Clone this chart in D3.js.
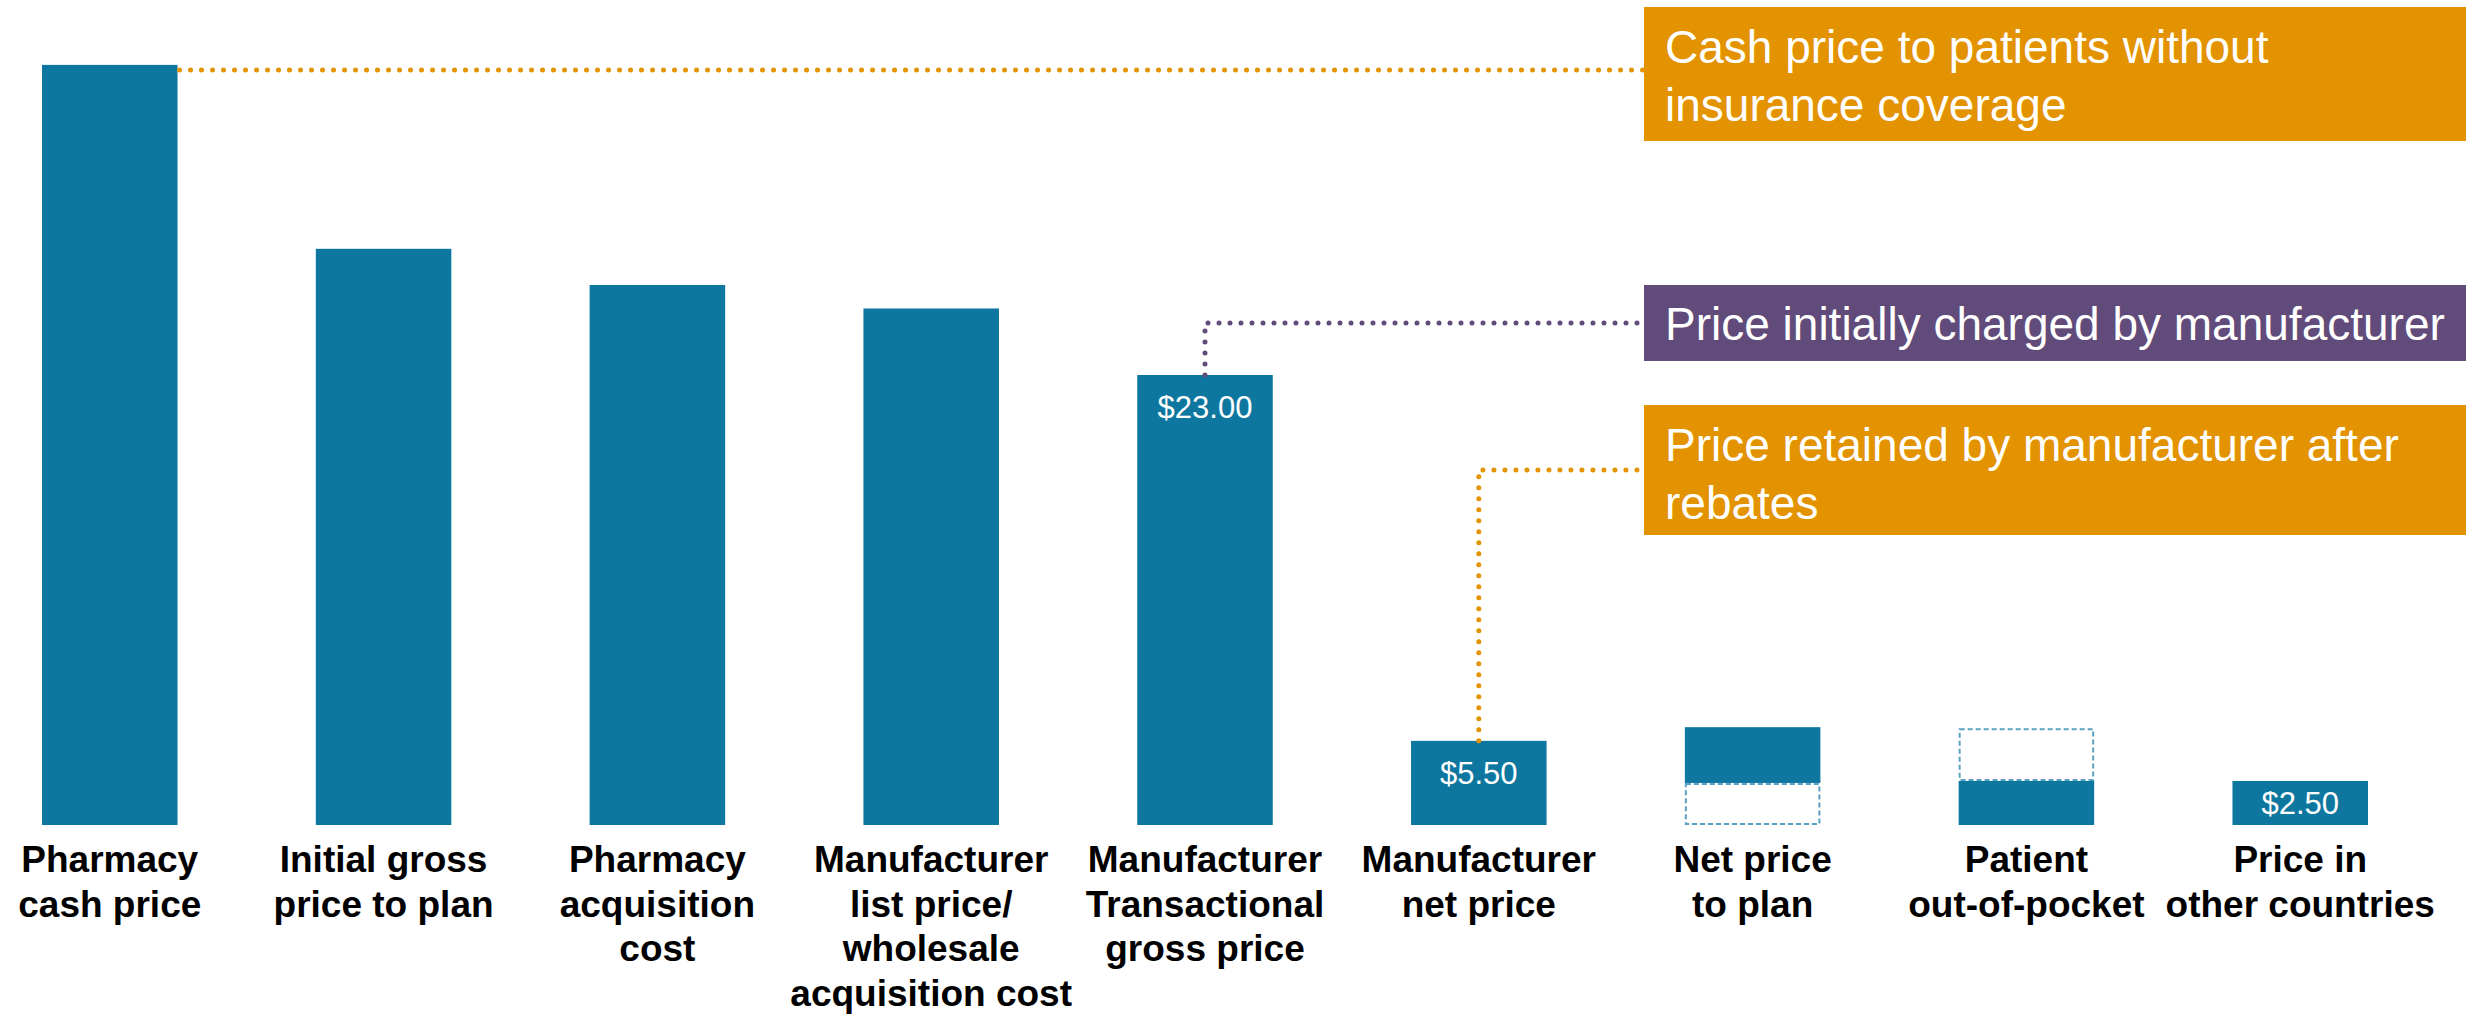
<!DOCTYPE html>
<html>

<head>
  <title>Drug price chain</title>
  <script src="https://cdn.jsdelivr.net/npm/d3@7/dist/d3.min.js"></script>
  <style>
    body { margin: 0; background: #fff; }
  </style>
</head>

<body>
  <svg width="2466" height="1016" id="mainsvg"></svg>
  <script>
    // data
    const categories = [
      ['Pharmacy', 'cash price'],
      ['Initial gross', 'price to plan'],
      ['Pharmacy', 'acquisition', 'cost'],
      ['Manufacturer', 'list price/', 'wholesale', 'acquisition cost'],
      ['Manufacturer', 'Transactional', 'gross price'],
      ['Manufacturer', 'net price'],
      ['Net price', 'to plan'],
      ['Patient', 'out-of-pocket'],
      ['Price in', 'other countries']
    ];
    // schematic bar heights (solid part, then dashed part)
    const solidValues = [38.85, 29.45, 27.6, 26.4, 23.0, 4.3, 2.85, 2.25, 2.25];
    const dashedValues = [0, 0, 0, 0, 0, 0, 2.15, 2.7, 0];
    const dashedBelow = [false, false, false, false, false, false, true, false, false];
    const valueLabels = ['', '', '', '', '$23.00', '$5.50', '', '', '$2.50'];

    const calloutTexts = [
      ['Cash price to patients without', 'insurance coverage'],
      ['Price initially charged by manufacturer'],
      ['Price retained by manufacturer after', 'rebates']
    ];
    const calloutBars = [0, 4, 5];
    const calloutColors = ['#e39200', '#614b7a', '#e39200'];

    const svg = d3.select('#mainsvg');
    const width = +svg.attr('width');
    const baseY = 825;
    const blue = '#0e77a0';

    const xScale = d3.scaleBand()
      .domain(d3.range(categories.length))
      .range([42, 2368])
      .paddingInner(0.505)
      .paddingOuter(0);

    const yScale = d3.scaleLinear()
      .domain([0, 23])
      .range([baseY, 375]);

    // bar segments
    const segs = [];
    solidValues.forEach((v, i) => {
      const d = dashedValues[i];
      if (dashedBelow[i]) {
        segs.push({ i, y0: 0, y1: d, dashed: true });
        segs.push({ i, y0: d, y1: d + v, dashed: false });
      } else {
        segs.push({ i, y0: 0, y1: v, dashed: false });
        if (d > 0) segs.push({ i, y0: v, y1: v + d, dashed: true });
      }
    });

    const g = svg.append('g');
    g.selectAll('rect.seg').data(segs.filter(s => !s.dashed)).join('rect')
      .attr('class', 'seg')
      .attr('x', s => xScale(s.i))
      .attr('width', xScale.bandwidth())
      .attr('y', s => yScale(s.y1))
      .attr('height', s => yScale(s.y0) - yScale(s.y1))
      .attr('fill', blue);

    g.selectAll('rect.dash').data(segs.filter(s => s.dashed)).join('rect')
      .attr('class', 'dash')
      .attr('x', s => xScale(s.i) + 1)
      .attr('width', xScale.bandwidth() - 2)
      .attr('y', s => yScale(s.y1) + 1)
      .attr('height', s => yScale(s.y0) - yScale(s.y1) - 2)
      .attr('fill', 'none')
      .attr('stroke', '#5aa2c2')
      .attr('stroke-width', 2)
      .attr('stroke-dasharray', '5 3');

    // value labels inside bars
    g.selectAll('text.val').data(valueLabels.map((t, i) => ({ t, i })).filter(d => d.t)).join('text')
      .attr('class', 'val')
      .attr('x', d => xScale(d.i) + xScale.bandwidth() / 2)
      .attr('y', d => {
        const top = yScale(solidValues[d.i]);
        const h = baseY - top;
        return top + Math.min(43, h / 2 + 11);
      })
      .attr('text-anchor', 'middle')
      .attr('fill', '#fff')
      .style('font-family', '"Liberation Sans", Arial, sans-serif')
      .style('font-size', '31px')
      .text(d => d.t);

    // category labels
    const labels = g.selectAll('text.cat').data(categories).join('text')
      .attr('class', 'cat')
      .attr('text-anchor', 'middle')
      .attr('fill', '#000')
      .style('font-family', '"Liberation Sans", Arial, sans-serif')
      .style('font-weight', 'bold')
      .style('font-size', '37px');
    labels.selectAll('tspan').data((d, i) => d.map(l => ({ l, i }))).join('tspan')
      .attr('x', d => xScale(d.i) + xScale.bandwidth() / 2)
      .attr('y', (d, j) => 872 + j * 44.5)
      .text(d => d.l);

    // callouts
    const boxX = 1644;
    const boxes = [
      { top: 7, bottom: 141 },
      { top: 285, bottom: 361 },
      { top: 405, bottom: 535 }
    ];
    calloutTexts.forEach((lines, k) => {
      const b = boxes[k];
      const mid = (b.top + b.bottom) / 2;
      const bi = calloutBars[k];
      const color = calloutColors[k];
      const barTop = yScale(solidValues[bi]);
      let path;
      if (k === 0) {
        path = `M${xScale(bi) + xScale.bandwidth() + 2},${barTop + 5} H${boxX}`;
      } else {
        const cx = xScale(bi) + xScale.bandwidth() / 2;
        path = `M${cx},${barTop} V${mid} H${boxX}`;
      }
      svg.append('path')
        .attr('d', path)
        .attr('fill', 'none')
        .attr('stroke', color)
        .attr('stroke-width', 5)
        .attr('stroke-linecap', 'round')
        .attr('stroke-dasharray', '0 11');

      svg.append('rect')
        .attr('x', boxX).attr('y', b.top)
        .attr('width', width - boxX).attr('height', b.bottom - b.top)
        .attr('fill', color);

      const t = svg.append('text')
        .attr('fill', '#fff')
        .style('font-family', '"Liberation Sans", Arial, sans-serif')
        .style('font-size', '46px');
      const firstBase = lines.length === 1 ? mid + 17 : b.top + 56;
      t.selectAll('tspan').data(lines).join('tspan')
        .attr('x', boxX + 21)
        .attr('y', (d, j) => firstBase + j * 58)
        .text(d => d);
    });
  </script>
</body>

</html>
